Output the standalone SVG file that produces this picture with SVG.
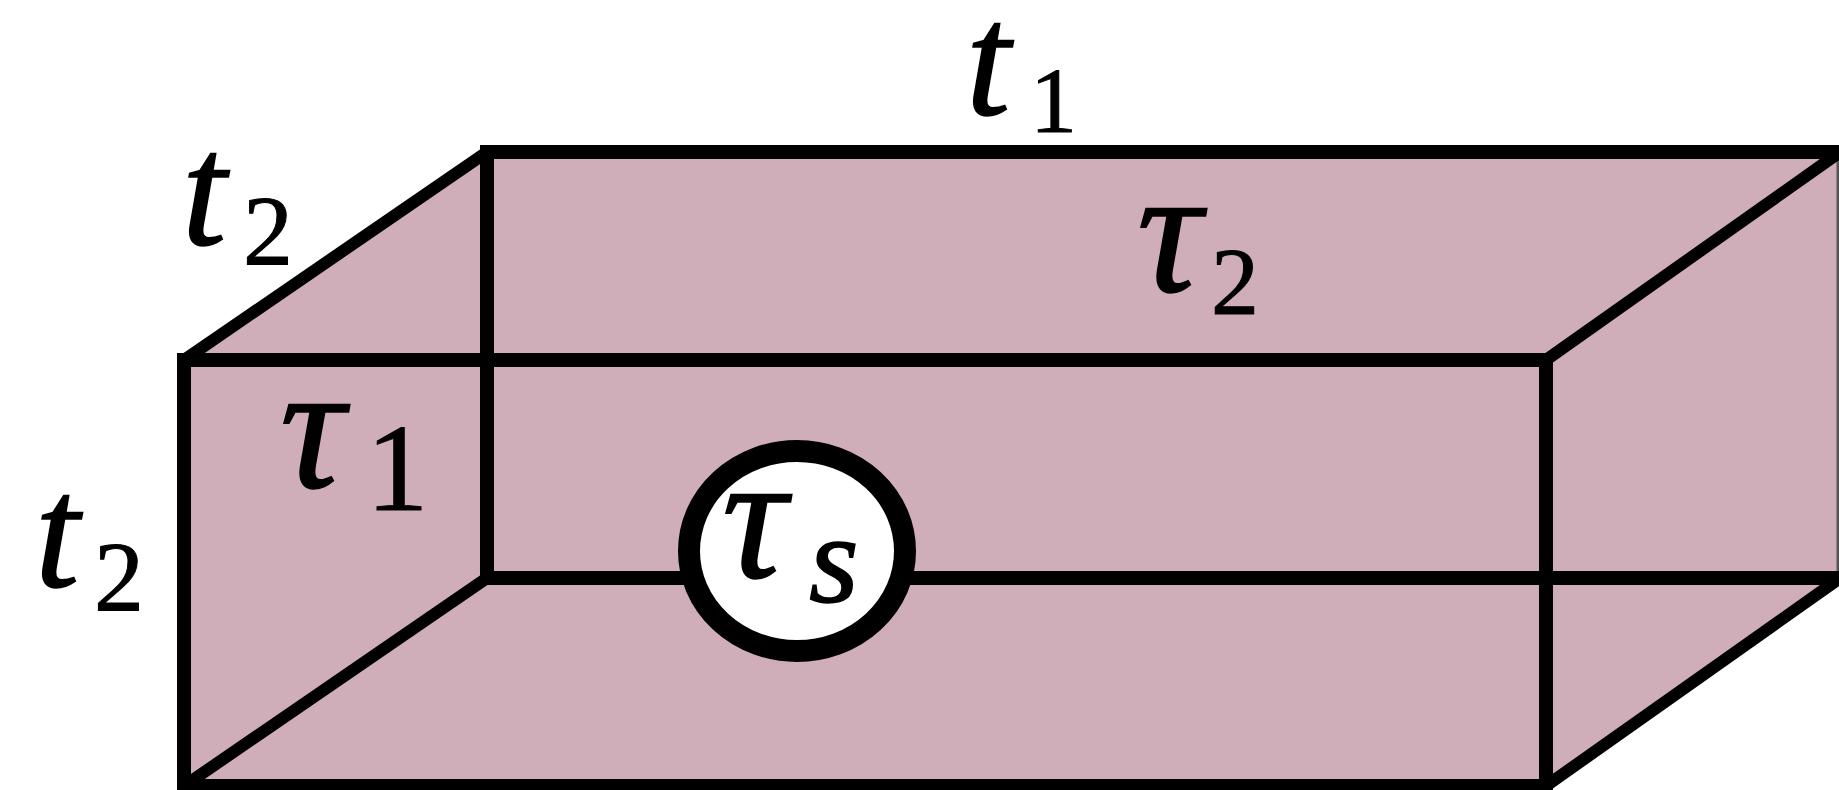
<svg xmlns="http://www.w3.org/2000/svg" width="1839" height="790" viewBox="0 0 1839 790">
<style>
.edge{stroke:#000;stroke-width:14;stroke-linecap:square;fill:none}
.diag{stroke:#000;stroke-width:12;stroke-linecap:round;fill:none}
.thin{stroke:#555;stroke-width:3;fill:none}
.lbl{font-family:"Liberation Serif","Times New Roman",serif;font-style:italic;fill:#000;stroke:#000;stroke-width:1.5}
.num{font-family:"Liberation Serif","Times New Roman",serif;font-style:normal;fill:#000;stroke:#000;stroke-width:1}
</style>
<rect width="1839" height="790" fill="#fff"/>
<g id="box">
<polygon points="184,360 487,152 1839,152 1839,578 1546,786 184,786" fill="#d0aeb9"/>
</g>
<g id="edges">
<line class="thin" x1="1838" y1="152" x2="1838" y2="578"/>
<line class="edge" x1="487" y1="152" x2="1839" y2="152"/>
<line class="edge" x1="487" y1="152" x2="487" y2="578"/>
<line class="edge" x1="487" y1="578" x2="1839" y2="578"/>
<line class="diag" x1="184" y1="360" x2="487" y2="152"/>
<line class="diag" x1="1546" y1="360" x2="1836" y2="155"/>
<line class="diag" x1="184" y1="786" x2="487" y2="578"/>
<line class="diag" x1="1546" y1="786" x2="1836" y2="581"/>
<polyline class="edge" points="184,786 184,360 1546,360 1546,786 184,786"/>
</g>
<g id="source">
<ellipse cx="797" cy="551" rx="108" ry="100" fill="#fff" stroke="#000" stroke-width="22"/>
<text class="lbl" x="722" y="577" font-size="180">τ</text>
<text class="lbl" x="809" y="602" font-size="128">s</text>
</g>
<g id="labels">
<text class="lbl" x="966" y="114" font-size="160">t</text>
<text class="num" x="1030" y="132" font-size="94">1</text>
<text class="lbl" x="182" y="244" font-size="160">t</text>
<text class="num" x="243" y="264" font-size="100">2</text>
<text class="lbl" x="35" y="586" font-size="160">t</text>
<text class="num" x="94" y="610" font-size="100">2</text>
<text class="lbl" x="280" y="487" font-size="180">τ</text>
<text class="num" x="366" y="510" font-size="125">1</text>
<text class="lbl" x="1137" y="291" font-size="180">τ</text>
<text class="num" x="1211" y="314" font-size="96">2</text>
</g>
</svg>
